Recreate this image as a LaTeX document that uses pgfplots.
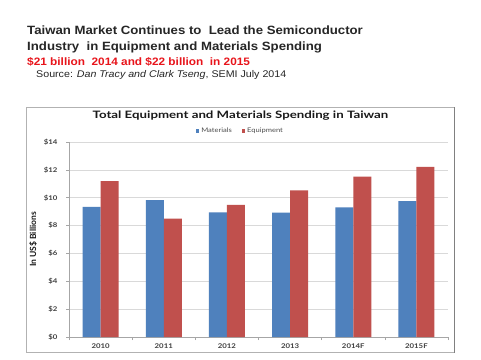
\documentclass[border=0pt]{standalone}
\usepackage{pgfplots}
\pgfplotsset{compat=1.18}
\usepackage{fontspec}
\setmainfont{Liberation Sans}[FakeStretch=1.1]
\newfontfamily\chartfont{Lato}[FakeStretch=1.2]
\newfontfamily\charttitlefont{Lato}[FakeStretch=1.3]
\newfontfamily\labelfont{Lato}
\definecolor{matblue}{HTML}{4F81BD}
\definecolor{eqred}{HTML}{C0504D}
\definecolor{gridgray}{HTML}{D9D9D9}
\definecolor{axgray}{HTML}{A6A6A6}
\definecolor{hdred}{HTML}{E8141B}
\begin{document}
\begin{tikzpicture}
\path[use as bounding box, fill=white] (0pt,0pt) rectangle (481pt,359pt);
% headings
\node[anchor=west, inner sep=0pt, font=\fontsize{12}{14}\selectfont\bfseries, text=black!85] at (27pt,329pt) {Taiwan Market Continues to\ \ Lead the Semiconductor};
\node[anchor=west, inner sep=0pt, font=\fontsize{12}{14}\selectfont\bfseries, text=black!85] at (27pt,312pt) {Industry\ \ in Equipment and Materials Spending};
\node[anchor=west, inner sep=0pt, font=\fontsize{10.75}{12}\selectfont\bfseries, text=hdred] at (27pt,297pt) {\$21 billion\ \ 2014 and \$22 billion\ \ in 2015};
\node[anchor=west, inner sep=0pt, font=\fontsize{9.7}{11}\selectfont, text=black!85] at (36pt,284pt) {Source: \textit{Dan Tracy and Clark Tseng}, SEMI July 2014};
% chart frame
\draw[color=black!30, line width=0.6pt] (26pt,6.3pt) rectangle (454pt,252pt);
\draw[color=black!50, line width=0.8pt] (454pt,6.3pt) -- (454pt,252pt);
\node[font=\charttitlefont\fontsize{10.2}{12}\selectfont\bfseries, text=black!90] at (240.5pt,243.3pt) {Total Equipment and Materials Spending in Taiwan};
\begin{axis}[
  at={(69pt,22pt)}, anchor=south west,
  scale only axis, width=379pt, height=195pt,
  ybar=0pt, bar width=18pt,
  xmin=-0.5, xmax=5.5, ymin=0, ymax=14,
  xtick={0,1,2,3,4,5},
  xticklabels={2010,2011,2012,2013,2014F,2015F},
  minor xtick={-0.5,0.5,1.5,2.5,3.5,4.5,5.5},
  ytick={0,2,4,6,8,10,12,14},
  yticklabels={\$0,\$2,\$4,\$6,\$8,\$10,\$12,\$14},
  axis lines*=left,
  axis line style={color=axgray, line width=0.6pt},
  ymajorgrids, grid style={color=gridgray, line width=0.6pt},
  tick align=outside,
  major tick length=3pt, minor tick length=3pt,
  x tick style={draw=none},
  minor x tick style={draw=axgray, line width=0.5pt},
  y tick style={draw=axgray, line width=0.5pt},
  tick label style={font=\chartfont\fontsize{6.5}{8}\selectfont\bfseries, text=black!75},
  yticklabel style={xshift=-5pt},
  xticklabel style={yshift=0pt},
  ylabel={In US\$ Billions},
  every axis y label/.style={at={(ticklabel cs:0.5)}, rotate=90, anchor=south, xshift=0pt, yshift=0pt,
     font=\labelfont\fontsize{8.5}{10}\selectfont\bfseries, text=black!90},
  legend style={at={(0.5,1.0)}, anchor=center, xshift=-18pt, yshift=11pt, draw=none, fill=none,
    font=\chartfont\fontsize{6.3}{7}\selectfont, text=black!70, legend columns=2,
    inner sep=0pt,
    /tikz/every even column/.append style={column sep=8pt}},
  legend image code/.code={\fill[#1] (0pt,-1.6pt) rectangle (3.2pt,1.6pt);},
  clip=false,
]
\addplot[fill=matblue, draw=none] coordinates {(0,9.35) (1,9.83) (2,8.95) (3,8.93) (4,9.31) (5,9.76)};
\addplot[fill=eqred, draw=none] coordinates {(0,11.2) (1,8.49) (2,9.48) (3,10.53) (4,11.51) (5,12.22)};
\legend{Materials, Equipment}
\end{axis}
\end{tikzpicture}
\end{document}
